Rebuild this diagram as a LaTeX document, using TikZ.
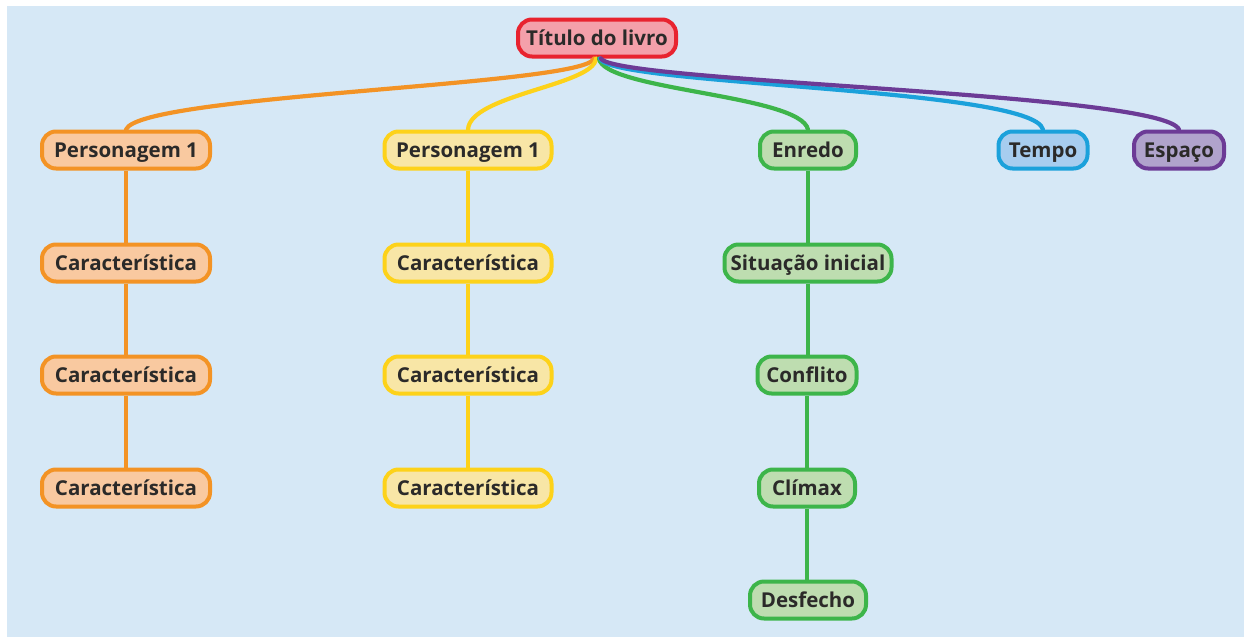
\documentclass[tikz,border=0pt]{standalone}
\usepackage{fontspec}
\setmainfont{Open Sans}
\definecolor{bg}{HTML}{D6E8F6}
\definecolor{txt}{HTML}{2B2A29}
\definecolor{redB}{HTML}{E8232F}\definecolor{redF}{HTML}{F4A0AA}
\definecolor{orB}{HTML}{F39325}\definecolor{orF}{HTML}{F9C9A0}
\definecolor{yeB}{HTML}{FDD21A}\definecolor{yeF}{HTML}{F8E6A6}
\definecolor{grB}{HTML}{3DB54A}\definecolor{grF}{HTML}{BEDDB0}
\definecolor{blB}{HTML}{1BA1DB}\definecolor{blF}{HTML}{A7CDEF}
\definecolor{puB}{HTML}{6C3B96}\definecolor{puF}{HTML}{B0A3CC}
\tikzset{
  box/.style={draw, line width=4pt, rounded corners=14pt, minimum height=37pt,
    inner sep=1pt, text height=16pt, text depth=2pt,
    font=\fontsize{20.5}{22}\selectfont\bfseries, text=txt},
  orbox/.style={box, draw=orB, fill=orF, minimum width=168pt},
  yebox/.style={box, draw=yeB, fill=yeF, minimum width=167pt},
  grbox/.style={box, draw=grB, fill=grF},
  link/.style={line width=4.2pt, line cap=round},
}
\begin{document}
\begin{tikzpicture}[x=1pt,y=-1pt]
\useasboundingbox (0,0) rectangle (1244,637);
\fill[bg] (7,6) rectangle (1244,637);
% nodes
\node[box, draw=redB, fill=redF, minimum width=158pt] (t) at (597,38) {Título do livro};
\node[orbox] (o0) at (126,150) {Personagem 1};
\node[orbox] (o1) at (126,263) {Característica};
\node[orbox] (o2) at (126,375) {Característica};
\node[orbox] (o3) at (126,488) {Característica};
\node[yebox] (y0) at (468,150) {Personagem 1};
\node[yebox] (y1) at (468,263) {Característica};
\node[yebox] (y2) at (468,375) {Característica};
\node[yebox] (y3) at (468,488) {Característica};
\node[grbox, minimum width=96pt] (g0) at (808,150) {Enredo};
\node[grbox, minimum width=167pt] (g1) at (808,263) {Situação inicial};
\node[grbox, minimum width=99pt] (g2) at (807,375) {Conflito};
\node[grbox, minimum width=96pt] (g3) at (807,488) {Clímax};
\node[grbox, minimum width=116pt] (g4) at (808,600) {Desfecho};
\node[box, draw=blB, fill=blF, minimum width=89pt] (tp) at (1043,150) {Tempo};
\node[box, draw=puB, fill=puF, minimum width=90pt] (es) at (1179,150) {Espaço};
% connectors
\draw[link, draw=orB] ([xshift=-3pt]t.south) .. controls +(-8,27) and +(14,-35) .. (o0.north);
\draw[link, draw=yeB] ([xshift=-1pt]t.south) .. controls +(-2,27) and +(2,-35) .. (y0.north);
\draw[link, draw=grB] ([xshift=2pt]t.south) .. controls +(5,32) and +(-8,-35) .. (g0.north);
\draw[link, draw=blB] ([xshift=3pt]t.south) .. controls +(8,27) and +(-10,-42) .. (tp.north);
\draw[link, draw=puB] ([xshift=4pt]t.south) .. controls +(12,24) and +(-16,-37) .. (es.north);
\foreach \a/\b/\c in {o0/o1/orB,o1/o2/orB,o2/o3/orB,y0/y1/yeB,y1/y2/yeB,y2/y3/yeB,g0/g1/grB,g1/g2/grB,g2/g3/grB,g3/g4/grB}
  \draw[link, line cap=butt, draw=\c] (\a.south) -- (\a.south |- \b.north);
\end{tikzpicture}
\end{document}
